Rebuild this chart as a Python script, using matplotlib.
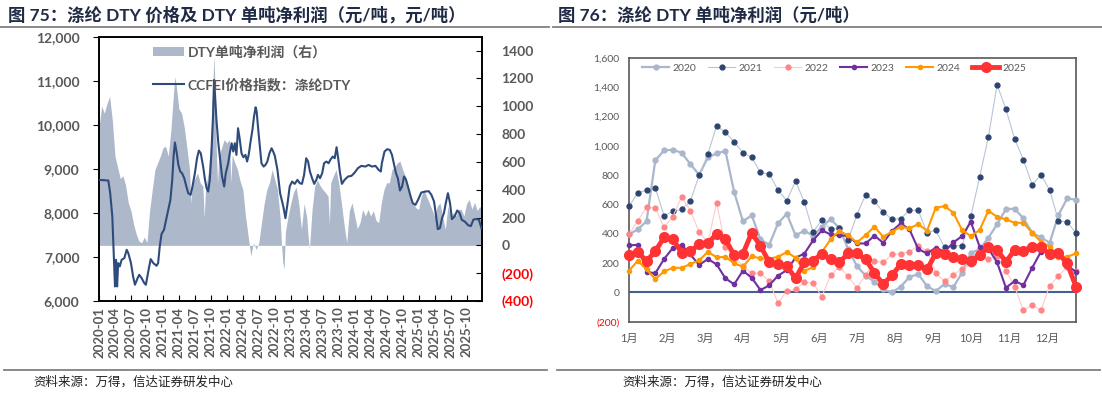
import matplotlib
matplotlib.use("Agg")
import matplotlib.pyplot as plt
from matplotlib.lines import Line2D
from matplotlib.patches import Patch

plt.rcParams['font.family'] = ['Lato', 'Noto Sans CJK SC', 'DejaVu Sans']

# ---------------- Left chart data ----------------
# x = months elapsed since 2020-01
price_month = [0.0, 1.75, 2.1, 2.5, 2.8, 3.0, 3.2, 3.4, 3.6, 3.9, 4.25, 4.75, 5.2, 5.5, 6.0, 6.4,
               6.75, 7.25, 7.55, 8.0, 8.5, 8.8, 9.25, 9.7, 10.2, 10.8, 11.1, 11.4, 11.75, 12.2, 12.6,
               13.0, 13.4, 13.75, 14.0, 14.25, 14.55, 14.9, 15.25, 15.6, 16.0, 16.4, 16.75, 17.2,
               17.55, 18.0, 18.4, 18.75, 19.1, 19.55, 19.9, 20.2, 20.5, 20.8, 21.1, 21.4, 21.6, 21.8,
               22.05, 22.4, 22.75, 23.1, 23.5, 23.8, 24.25, 24.55, 24.9, 25.2, 25.5, 25.8, 26.1, 26.4,
               26.75, 27.1, 27.5, 27.8, 28.1, 28.5, 28.8, 29.1, 29.4, 29.6, 29.9, 30.2, 30.5, 30.9,
               31.25, 31.6, 32.0, 32.4, 32.7, 33.0, 33.5, 34.0, 34.6, 35.0, 35.4, 35.8, 36.25, 36.75,
               37.25, 37.7, 38.1, 38.5, 38.9, 39.25, 39.6, 40.0, 40.4, 40.8, 41.1, 41.5, 41.9, 42.25,
               42.7, 43.1, 43.5, 43.9, 44.25, 44.6, 44.9, 45.25, 45.6, 46.1, 46.75, 47.4, 48.0, 48.6,
               49.25, 50.0, 50.6, 51.25, 51.9, 52.5, 52.9, 53.1, 53.6, 54.1, 54.6, 55.0, 55.4, 55.75,
               56.1, 56.5, 56.9, 57.25, 57.6, 58.0, 58.5, 58.9, 59.4, 59.9, 60.5, 61.25, 61.9, 62.4,
               62.9, 63.25, 63.6, 64.0, 64.4, 64.75, 65.1, 65.5, 65.9, 66.25, 66.75, 67.25, 67.7,
               68.1, 68.7, 69.3, 69.8, 70.3, 70.8, 71.3, 71.8]
price_value = [8750, 8735, 8448, 7918, 6936, 6330, 6936, 6330, 6860, 6785, 6936, 6973, 7162, 7087, 6860, 6558,
               6369, 6520, 6595, 6520, 6406, 6369, 6671, 6950, 6860, 6800, 6860, 7238, 7525, 7616, 7843,
               8070, 8296, 8750, 9279, 9597, 9393, 9090, 8939, 8901, 8788, 8599, 8448, 8410,
               8599, 8901, 9241, 9415, 9355, 9052, 8750, 8561, 8485, 8750, 9355, 10186, 11018, 10640,
               10111, 9582, 9204, 8826, 8599, 8901, 9128, 9355, 9582, 9393, 9582, 9317, 9922, 9695,
               9355, 9264, 9317, 9166, 9317, 9657, 9884, 10186, 10398, 10300, 9884, 9506, 9128, 9052,
               9090, 9166, 9355, 9468, 9393, 9300, 8977, 8448, 8145, 7881, 8221, 8599, 8712, 8659,
               8750, 8674, 8659, 8863, 9241, 9166, 8939, 8788, 8659, 8750, 8863, 8788, 8901, 9128,
               9166, 9128, 9219, 9279, 9241, 9491, 9241, 8901, 8659, 8750, 8826, 8841, 8916, 9015,
               9068, 9052, 9090, 9052, 9068, 8977, 8939, 9128, 9393, 9446, 9430, 9317, 9090, 8901,
               8788, 8508, 8599, 8826, 8765, 8599, 8372, 8221, 8183, 8296, 8463, 8485, 8493, 8410,
               8259, 7956, 7631, 7654, 7881, 7994, 8221, 8448, 8221, 7858, 7918, 8055, 7994,
               7843, 7800, 7720, 7700, 7850, 7860, 7850, 7650]

profit_month = [0, 0.5, 1, 1.5, 2, 2.5, 3, 3.5, 4, 4.5, 5, 5.5, 6, 6.5, 7, 7.5, 8, 8.5, 9, 9.5, 10,
                10.5, 11, 11.5, 12, 12.5, 13, 13.5, 14, 14.25, 14.5, 15, 15.5, 16, 16.5, 17, 17.25,
                17.5, 18, 18.5, 19, 19.5, 19.75, 20, 20.5, 21, 21.5, 21.6, 21.8, 22, 22.25, 22.5, 23,
                23.5, 24, 24.5, 24.75, 25, 25.5, 26, 26.5, 27, 27.5, 28, 28.5, 29, 29.5, 30, 30.5, 31,
                31.5, 32, 32.5, 33, 33.5, 34, 34.25, 34.5, 34.75, 35, 35.5, 36, 36.5, 37, 37.5, 38,
                38.5, 39, 39.25, 39.5, 40, 40.5, 41, 41.5, 42, 42.5, 43, 43.25, 43.5, 44, 44.5, 45,
                45.5, 46, 46.5, 47, 47.5, 48, 48.5, 49, 49.5, 50, 50.5, 51, 51.5, 52, 52.5, 53, 53.5,
                54, 54.5, 55, 55.5, 56, 56.5, 57, 57.5, 58, 58.5, 59, 59.5, 60, 60.5, 61, 61.5, 62,
                62.5, 63, 63.5, 64, 64.5, 65, 65.5, 66, 66.5, 67, 67.5, 68, 68.5, 69, 69.5, 70, 70.5,
                71, 71.5, 71.9]
profit_value = [850, 1000, 950, 1020, 1071, 900, 641, 560, 480, 500, 430, 306, 250, 150, 80, 30, 19, 60,
                20, 250, 400, 545, 593, 640, 700, 713, 641, 832, 1100, 1214, 1150, 980, 951, 850, 700,
                545, 300, 450, 480, 521, 450, 426, 200, 402, 521, 750, 1286, 1358, 1100, 713, 450, 641,
                700, 760, 736, 760, 450, 650, 593, 545, 460, 402, 211, 67, -76, 19, -29, 19, 163, 300,
                400, 450, 545, 473, 402, 200, 19, -124, -172, 100, 211, 300, 380, 420, 300, 115, 300,
                200, 67, -29, 258, 426, 470, 430, 402, 380, 354, 150, 450, 500, 545, 450, 306, 150, 19,
                250, 306, 211, 120, 163, 258, 211, 258, 211, 250, 180, 163, 306, 402, 450, 450, 545,
                560, 593, 605, 545, 497, 426, 354, 300, 270, 258, 354, 402, 350, 306, 258, 211, 280,
                306, 211, 115, 282, 211, 235, 211, 260, 258, 211, 300, 330, 260, 310, 250, 280, 250]

left_xtick_labels = ['2020-01', '2020-04', '2020-07', '2020-10', '2021-01', '2021-04', '2021-07', '2021-10',
                     '2022-01', '2022-04', '2022-07', '2022-10', '2023-01', '2023-04', '2023-07', '2023-10',
                     '2024-01', '2024-04', '2024-07', '2024-10', '2025-01', '2025-04', '2025-07', '2025-10']

# ---------------- Right chart data ----------------
years = ['2020', '2021', '2022', '2023', '2024', '2025']
p2020 = [396, 430, 485, 901, 969, 974, 953, 876, 803, 921, 949, 965, 685, 485, 526, 362, 325, 471, 537, 389,
         421, 387, 448, 500, 439, 296, 180, 114, 73, 20, 0, 39, 105, 125, 43, 9, 57, 36, 134, 271, 293, 373,
         464, 569, 571, 505, 407, 375, 339, 528, 642, 632]
p2021 = [587, 680, 698, 714, 523, 553, 566, 623, 799, 944, 1138, 1092, 1028, 953, 921, 819, 808, 698, 626,
         760, 617, 412, 494, 430, 439, 357, 530, 667, 623, 548, 500, 503, 560, 560, 407, 425, 307, 319, 319,
         520, 787, 1060, 1417, 1251, 1047, 905, 735, 803, 698, 489, 480, 403]
p2022 = [396, 489, 580, 576, 444, 516, 653, 557, 414, 339, 612, 312, 240, 180, 130, 130, 77, -75, 11, 20, 68,
         66, -30, 118, 175, 109, 32, 118, 214, 205, 259, 264, 278, 318, 284, 130, 77, 120, 160, 193, 240, 230,
         248, 146, 40, -121, -86, -121, 45, 114, 175, 146]
p2023 = [321, 325, 141, 130, 228, 303, 325, 259, 187, 228, 191, 96, 55, 148, 100, 16, 48, 114, 152, 237, 264,
         355, 423, 396, 389, 387, 334, 334, 387, 339, 419, 471, 430, 296, 266, 305, 278, 341, 384, 482, 312,
         300, 205, 32, 77, 50, 168, 278, 278, 262, 182, 141]
p2024 = [148, 216, 157, 91, 143, 168, 168, 193, 218, 278, 239, 243, 198, 175, 246, 232, 230, 243, 275, 237,
         148, 171, 275, 362, 419, 389, 341, 391, 448, 380, 414, 448, 437, 466, 421, 578, 589, 544, 425, 384,
         425, 557, 516, 498, 475, 475, 407, 346, 312, 243, 243, 266]
p2025 = [257, 278, 212, 282, 375, 364, 271, 280, 328, 334, 400, 362, 255, 264, 407, 316, 207, 191, 180, 96,
         205, 216, 264, 225, 205, 266, 266, 225, 134, 55, 118, 191, 184, 184, 157, 266, 262, 239, 225, 214,
         255, 312, 289, 209, 289, 284, 312, 307, 262, 266, 198, 39]
month_labels = ['1月', '2月', '3月', '4月', '5月', '6月', '7月', '8月', '9月', '10月', '11月', '12月']

GREY = '#595959'
W, H = 1102, 394
fig = plt.figure(figsize=(W / 100, H / 100), dpi=100)

# ---------------- Left chart ----------------
axL = fig.add_axes([99 / W, 1 - 301 / H, 383 / W, 264.3 / H])
axL.fill_between(profit_month, profit_value, 0, color='#ADB9CA', lw=0, zorder=1)
axL.set_ylim(-400, 1500)
axL.set_xlim(0, 71.9)
axL.set_xticks(range(0, 70, 3))
axL.set_xticklabels(left_xtick_labels, rotation=90, fontsize=9.5, color=GREY, fontweight='bold')
axL.tick_params(axis='x', direction='in', length=4, pad=4)

axL2 = axL.twinx()
axL2.plot(price_month, price_value, color='#2F4B7C', lw=1.5, zorder=3)
axL2.set_ylim(6000, 12000)

# profit axis on the right, price axis on the left
axL.yaxis.tick_right()
axL.yaxis.set_label_position('right')
axL.set_yticks(range(-400, 1401, 200))
rvals = list(range(-400, 1401, 200))
axL.set_yticklabels(['(%d)' % (-v) if v < 0 else str(v) for v in rvals])
for t, v in zip(axL.get_yticklabels(), rvals):
    t.set_color('#FF0000' if v < 0 else GREY)
    t.set_fontweight('bold')
axL.tick_params(axis='y', which='both', left=False, labelleft=False, right=True, labelright=True,
                direction='in', length=4, labelsize=10, pad=14)

axL2.yaxis.tick_left()
axL2.yaxis.set_label_position('left')
axL2.set_yticks(range(6000, 12001, 1000))
axL2.set_yticklabels(['{:,}'.format(v) for v in range(6000, 12001, 1000)], color=GREY,
                     fontweight='bold', fontsize=10)
axL2.tick_params(axis='y', which='both', left=True, labelleft=True, right=False, labelright=False,
                 direction='out', length=4, pad=10)
for ax in (axL, axL2):
    for s in ax.spines.values():
        s.set_color('black')
        s.set_linewidth(1.2)

handles = [Patch(facecolor='#ADB9CA', edgecolor='none'),
           Line2D([], [], color='#2F4B7C', lw=1.5)]
leg = axL2.legend(handles, ['DTY单吨净利润（右）', 'CCFEI价格指数：涤纶DTY'], loc='upper left',
                  bbox_to_anchor=(0.141, 0.968), frameon=False, fontsize=10, handlelength=2.2,
                  handleheight=0.55, handletextpad=0.3, labelspacing=1.35, borderpad=0, borderaxespad=0)
for t in leg.get_texts():
    t.set_color(GREY)
    t.set_fontweight('bold')

# ---------------- Right chart ----------------
axR = fig.add_axes([629 / W, 1 - 321.7 / H, 447 / W, 263.7 / H])
weeks = list(range(len(p2025)))
axR.axhline(0, color='#44608F', lw=1.5, zorder=1)
styles = [
    dict(color='#A9B6CC', lw=1.6, marker='o', ms=3.5, mfc='#A9B6CC', mec='#A9B6CC'),
    dict(color='#B9C4D6', lw=0.8, marker='o', ms=3.5, mfc='#2E4470', mec='#2E4470'),
    dict(color='#FFC9C9', lw=0.8, marker='o', ms=3.5, mfc='#FF8686', mec='#FF8686'),
    dict(color='#7030A0', lw=1.5, marker='o', ms=3, mfc='#7030A0', mec='#7030A0'),
    dict(color='#FF9900', lw=1.5, marker='o', ms=3, mfc='#FF9900', mec='#FF9900'),
    dict(color='#FF3333', lw=3.5, marker='o', ms=7, mfc='#FF3333', mec='#FF3333'),
]
for name, vals, st in zip(years, [p2020, p2021, p2022, p2023, p2024, p2025], styles):
    axR.plot(weeks, vals, label=name, clip_on=False, zorder=3, **st)
axR.set_xlim(0, 51)
axR.set_ylim(-200, 1600)
axR.set_yticks(range(-200, 1601, 200))
axR.set_yticklabels(['(200)'] + ['{:,}'.format(v) for v in range(0, 1601, 200)])
for t, v in zip(axR.get_yticklabels(), range(-200, 1601, 200)):
    t.set_color('#FF0000' if v < 0 else GREY)
axR.tick_params(axis='y', length=0, labelsize=7.5, pad=7)
axR.set_xticks([m * 52 / 12 for m in range(12)])
axR.set_xticklabels(month_labels)
axR.tick_params(axis='x', length=0, labelsize=8, colors=GREY, pad=8)
for s in axR.spines.values():
    s.set_color('#595959')
    s.set_linewidth(1.2)
legR = axR.legend(loc='upper left', bbox_to_anchor=(0.02, 0.995), ncol=6, frameon=False, fontsize=7.5,
                  handlelength=2.6, handletextpad=0.3, columnspacing=1.15, borderaxespad=0)
for t in legR.get_texts():
    t.set_color(GREY)

# ---------------- Titles, rules, sources ----------------
TITLE_C = '#1F2A44'
fig.text(8 / W, 1 - 15 / H, '图 75：涤纶 DTY 价格及 DTY 单吨净利润（元/吨，元/吨）', fontsize=12.5,
         fontweight='bold', color=TITLE_C, va='center', ha='left')
fig.text(558 / W, 1 - 15 / H, '图 76：涤纶 DTY 单吨净利润（元/吨）', fontsize=12.5,
         fontweight='bold', color=TITLE_C, va='center', ha='left')
for x0, x1 in ((0, 549), (553, 1102)):
    fig.add_artist(Line2D([x0 / W, x1 / W], [1 - 27 / H, 1 - 27 / H], color='#808080', lw=1.3))
    fig.add_artist(Line2D([(x0 + 4) / W, (x1 - 2) / W], [1 - 370 / H, 1 - 370 / H], color='#808080', lw=1.3))
fig.text(33 / W, 1 - 381 / H, '资料来源：万得，信达证券研发中心', fontsize=9, color='#222222',
         va='center', ha='left', style='italic')
fig.text(622 / W, 1 - 381 / H, '资料来源：万得，信达证券研发中心', fontsize=9, color='#222222',
         va='center', ha='left', style='italic')

fig.savefig('out.png', dpi=100)
